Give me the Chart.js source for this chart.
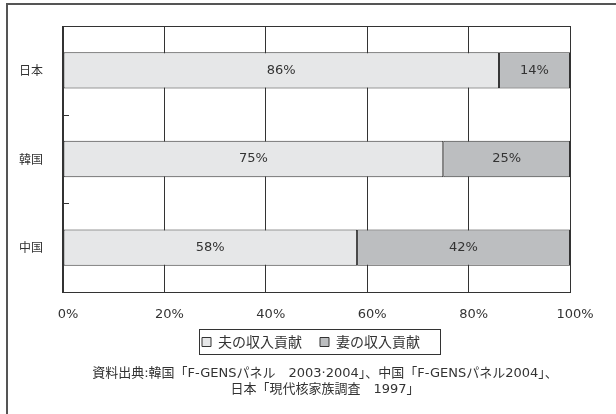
<!DOCTYPE html>
<html lang="ja">
<head>
  <meta charset="UTF-8">
  <title>夫婦の収入貢献</title>
  <script src="https://cdn.jsdelivr.net/npm/chart.js"></script>
  <style>
    body { margin: 0; background: #fff; }
    canvas { display: block; }
  </style>
</head>
<body>
  <canvas id="kouken" width="616" height="414"></canvas>

  <script>
    // 国別・夫と妻の収入貢献（%）
    const kuni = ['日本', '韓国', '中国'];
    const otto = [86, 75, 58];
    const tsuma = [14, 25, 42];
    const xTicks = [0, 20, 40, 60, 80, 100];
    const shutten = [
      '資料出典:韓国「F-GENSパネル　2003·2004」、中国「F-GENSパネル2004」、',
      '日本「現代核家族調査　1997」'
    ];

    const FONT = '"DejaVu Sans", "Noto Sans CJK JP", sans-serif';
    const JFONT = '"Noto Sans CJK JP", sans-serif';
    const INK = '#333';

    // 凡例と出典をページ中央寄りにずらす（元図はプロットより右寄り）
    const nudge = {
      id: 'nudge',
      afterLayout(chart) {
        const lg = chart.legend, tb = chart.titleBlock;
        lg.left += 26; lg.right += 26;
        lg.top -= 5; lg.bottom -= 5;
        tb.left += 40; tb.right += 40;
      }
    };

    // 棒の中の数値
    const barLabels = {
      id: 'barLabels',
      afterDatasetsDraw(chart) {
        const ctx = chart.ctx;
        ctx.save();
        ctx.font = '13px ' + FONT;
        ctx.fillStyle = INK;
        ctx.textAlign = 'center';
        ctx.textBaseline = 'middle';
        chart.data.datasets.forEach((ds, i) => {
          chart.getDatasetMeta(i).data.forEach((bar, j) => {
            const p = bar.getProps(['x', 'y', 'base'], true);
            ctx.fillText(ds.data[j] + '%', (p.x + p.base) / 2, p.y);
          });
        });
        ctx.restore();
      }
    };

    // 枠線・カテゴリ境界の目盛・凡例の枠・外枠
    const frames = {
      id: 'frames',
      afterDraw(chart) {
        const ctx = chart.ctx;
        const a = chart.chartArea;
        const y = chart.scales.y;
        ctx.save();
        ctx.strokeStyle = INK;
        ctx.lineWidth = 1;
        ctx.strokeRect(a.left + 0.5, a.top + 0.5, a.right - a.left, a.bottom - a.top);
        ctx.lineWidth = 2;
        ctx.beginPath();
        ctx.moveTo(a.left, a.top);
        ctx.lineTo(a.left, a.bottom + 1);
        ctx.stroke();
        ctx.lineWidth = 1;
        for (let i = 0; i < kuni.length - 1; i++) {
          const py = Math.round(y.getPixelForValue(i + 0.5)) + 0.5;
          ctx.beginPath();
          ctx.moveTo(a.left, py);
          ctx.lineTo(a.left + 6, py);
          ctx.stroke();
        }
        const hits = chart.legend.legendHitBoxes;
        if (hits && hits.length) {
          const first = hits[0], last = hits[hits.length - 1];
          const lx = Math.round(first.left) - 2.5;
          const rx = Math.round(last.left + last.width) + 20.5;
          const ty = Math.round(first.top + first.height / 2) - 12.5;
          ctx.strokeRect(lx, ty, rx - lx, 25);
        }
        ctx.strokeStyle = '#555';
        ctx.lineWidth = 2;
        ctx.beginPath();
        ctx.moveTo(chart.width + 2, 4);
        ctx.lineTo(7, 4);
        ctx.lineTo(7, chart.height + 2);
        ctx.stroke();
        ctx.restore();
      }
    };

    new Chart(document.getElementById('kouken').getContext('2d'), {
      type: 'bar',
      data: {
        labels: kuni,
        datasets: [
          {
            label: '夫の収入貢献',
            data: otto,
            backgroundColor: '#e6e7e8',
            borderColor: INK,
            borderWidth: 1,
            borderSkipped: false,
            categoryPercentage: 1,
            barPercentage: 0.41
          },
          {
            label: '妻の収入貢献',
            data: tsuma,
            backgroundColor: '#bcbec0',
            borderColor: INK,
            borderWidth: 1,
            borderSkipped: false,
            categoryPercentage: 1,
            barPercentage: 0.41
          }
        ]
      },
      options: {
        indexAxis: 'y',
        responsive: false,
        animation: false,
        layout: { padding: { top: 26, right: 46, left: 0, bottom: 16 } },
        scales: {
          x: {
            stacked: true,
            min: 0,
            max: 100,
            afterBuildTicks(scale) {
              scale.ticks = xTicks.map(v => ({ value: v }));
            },
            afterFit(scale) { scale.height = 30; },
            grid: { color: INK, lineWidth: 1, drawTicks: false },
            border: { color: INK, width: 1 },
            ticks: {
              callback: v => v + '%',
              color: INK,
              font: { family: FONT, size: 13 },
              padding: 15,
              labelOffset: 5,
              maxRotation: 0
            }
          },
          y: {
            stacked: true,
            afterFit(scale) { scale.width = 63; },
            grid: { display: false },
            border: { display: false },
            ticks: {
              color: INK,
              font: { family: JFONT, size: 12 },
              padding: 12
            }
          }
        },
        plugins: {
          legend: {
            position: 'bottom',
            labels: {
              color: INK,
              font: { family: JFONT, size: 14 },
              boxWidth: 9,
              boxHeight: 9,
              padding: 18
            }
          },
          title: {
            display: true,
            position: 'bottom',
            text: shutten,
            color: INK,
            font: { family: FONT, size: 13, weight: 'normal', lineHeight: '16px' },
            padding: { top: 2, bottom: 0 }
          },
          tooltip: { enabled: false }
        }
      },
      plugins: [nudge, barLabels, frames]
    });
  </script>
</body>
</html>
